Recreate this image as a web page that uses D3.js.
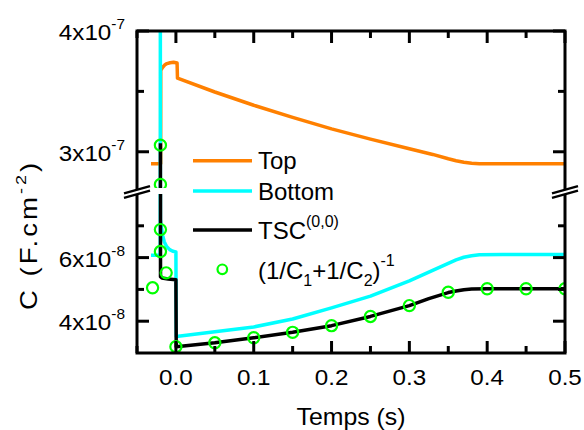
<!DOCTYPE html>
<html><head><meta charset="utf-8">
<script src="https://cdn.jsdelivr.net/npm/d3@7"></script>
<style>body{margin:0;background:#fff}svg{display:block}text{font-family:Arial,"Liberation Sans",sans-serif;fill:#000}</style>
</head><body><svg id="c" width="584" height="430"></svg>
<script>
// ---------- data ----------
const xTicks = [0, 0.1, 0.2, 0.3, 0.4, 0.5];
const xTickLabels = ["0.0", "0.1", "0.2", "0.3", "0.4", "0.5"];
const xMinorTicks = [-0.05, 0.05, 0.15, 0.25, 0.35, 0.45];
const yUpperMajor = [3e-7, 4e-7];
const yUpperLabels = [["3x10", "-7"], ["4x10", "-7"]];
const yUpperMinor = [3.5e-7];
const yLowerMajor = [4e-8, 6e-8];
const yLowerLabels = [["4x10", "-8"], ["6x10", "-8"]];
const yLowerMinor = [5e-8, 7e-8];

// Top (orange)
const topT = [-0.032, -0.0196, -0.0195, -0.017, -0.0145, -0.0115, -0.0075, -0.003, 0.0015, 0.002, 0.05, 0.1, 0.15, 0.2, 0.25, 0.3, 0.33, 0.35, 0.36, 0.37, 0.38, 0.39, 0.4, 0.45, 0.5];
const topC = [2.9e-7, 2.9e-7, 3.675e-7, 3.70e-7, 3.718e-7, 3.73e-7, 3.737e-7, 3.741e-7, 3.735e-7, 3.61e-7, 3.495e-7, 3.385e-7, 3.285e-7, 3.19e-7, 3.105e-7, 3.025e-7, 2.978e-7, 2.942e-7, 2.926e-7, 2.913e-7, 2.905e-7, 2.901e-7, 2.9e-7, 2.9e-7, 2.9e-7];
// Bottom (cyan)
const botT = [-0.032, -0.0201, -0.02, -0.0199, -0.019, -0.017, -0.015, -0.012, -0.008, -0.004, 0.0, 0.0004, 0.05, 0.1, 0.15, 0.2, 0.25, 0.3, 0.33, 0.35, 0.36, 0.37, 0.38, 0.39, 0.42, 0.45, 0.5];
const botC = [6.07e-8, 6.07e-8, 4.5e-7, 7.2e-8, 7.0e-8, 6.7e-8, 6.5e-8, 6.35e-8, 6.25e-8, 6.2e-8, 6.18e-8, 3.52e-8, 3.67e-8, 3.82e-8, 4.07e-8, 4.42e-8, 4.79e-8, 5.27e-8, 5.6e-8, 5.82e-8, 5.93e-8, 6.01e-8, 6.06e-8, 6.09e-8, 6.1e-8, 6.1e-8, 6.1e-8];
// TSC(0,0) (black)
const tscT = [-0.0199, -0.0198, -0.018, -0.01, 0.0, 0.0004, 0.05, 0.1, 0.15, 0.2, 0.25, 0.3, 0.325, 0.35, 0.36, 0.37, 0.38, 0.4, 0.45, 0.5];
const tscC = [3.07e-7, 5.4e-8, 5.36e-8, 5.33e-8, 5.3e-8, 3.2e-8, 3.32e-8, 3.48e-8, 3.65e-8, 3.86e-8, 4.15e-8, 4.49e-8, 4.71e-8, 4.9e-8, 4.95e-8, 4.99e-8, 5.01e-8, 5.02e-8, 5.02e-8, 5.02e-8];
// (1/C1+1/C2)^-1 (green circles)
const invT = [-0.03, -0.0199, -0.0199, -0.0199, -0.0199, -0.0125, 0.0, 0.05, 0.1, 0.15, 0.2, 0.25, 0.3, 0.35, 0.4, 0.45, 0.5];
const invC = [5.05e-8, 3.055e-7, 2.73e-7, 6.88e-8, 6.19e-8, 5.52e-8, 3.2e-8, 3.32e-8, 3.48e-8, 3.65e-8, 3.86e-8, 4.15e-8, 4.49e-8, 4.91e-8, 5.02e-8, 5.02e-8, 5.02e-8];

const seriesNames = ["Top", "Bottom", "TSC", "(1/C"];
const colors = {top: "#FF8000", bottom: "#00FFFF", tsc: "#000000", inv: "#00FF00"};

// ---------- layout ----------
const L = 137, R = 565, T = 31, B = 353;
const upBottom = 188, loTop = 194;
const svg = d3.select("#c");
const x = d3.scaleLinear().domain([-0.05, 0.5]).range([L, R]);
const yUp = d3.scaleLinear().domain([2.7e-7, 4e-7]).range([upBottom, T]);
const yLo = d3.scaleLinear().domain([3e-8, 8e-8]).range([B, loTop]);

const defs = svg.append("defs");
defs.append("clipPath").attr("id", "clipUp").append("rect").attr("x", L).attr("y", T).attr("width", R - L).attr("height", upBottom - T);
defs.append("clipPath").attr("id", "clipLo").append("rect").attr("x", L).attr("y", loTop).attr("width", R - L).attr("height", B - loTop);

const zip = (a, b) => a.map((v, i) => [v, b[i]]);
const dTop = zip(topT, topC), dBot = zip(botT, botC), dTsc = zip(tscT, tscC), dInv = zip(invT, invC);

function panel(y, clip) {
  const g = svg.append("g").attr("clip-path", `url(#${clip})`);
  const line = d3.line().x(d => x(d[0])).y(d => y(d[1]));
  g.append("path").datum(dTop).attr("d", line).attr("fill", "none").attr("stroke", colors.top).attr("stroke-width", 3.5).attr("stroke-linejoin", "round");
  g.append("path").datum(dBot).attr("d", line).attr("fill", "none").attr("stroke", colors.bottom).attr("stroke-width", 3.5).attr("stroke-linejoin", "round");
  g.append("path").datum(dTsc).attr("d", line).attr("fill", "none").attr("stroke", colors.tsc).attr("stroke-width", 3.5).attr("stroke-linejoin", "round");
  g.selectAll("circle").data(dInv).join("circle")
    .attr("cx", d => x(d[0])).attr("cy", d => y(d[1])).attr("r", 5.6)
    .attr("fill", "none").attr("stroke", colors.inv).attr("stroke-width", 2.2);
}
panel(yUp, "clipUp");
panel(yLo, "clipLo");

// ---------- frame & ticks ----------
const ax = svg.append("g").attr("stroke", "#000").attr("stroke-width", 3).attr("fill", "none");
ax.append("path").attr("d", `M${L},${T}H${R}V${B}H${L}Z`).attr("stroke-linejoin", "miter");
const major = 12, minor = 7;
xTicks.forEach(v => {
  ax.append("line").attr("x1", x(v)).attr("x2", x(v)).attr("y1", B).attr("y2", B - major);
  ax.append("line").attr("x1", x(v)).attr("x2", x(v)).attr("y1", T).attr("y2", T + major);
});
xMinorTicks.forEach(v => {
  ax.append("line").attr("x1", x(v)).attr("x2", x(v)).attr("y1", B).attr("y2", B - minor);
  ax.append("line").attr("x1", x(v)).attr("x2", x(v)).attr("y1", T).attr("y2", T + minor);
});
function yTick(yy, len) {
  ax.append("line").attr("x1", L).attr("x2", L + len).attr("y1", yy).attr("y2", yy);
  ax.append("line").attr("x1", R).attr("x2", R - len).attr("y1", yy).attr("y2", yy);
}
yUpperMajor.forEach(v => yTick(yUp(v), major));
yUpperMinor.forEach(v => yTick(yUp(v), minor));
yLowerMajor.forEach(v => yTick(yLo(v), major));
yLowerMinor.forEach(v => yTick(yLo(v), minor));

// break marks
function brk(cx, cy) {
  const hw = 13, hs = 3.6, off = 2.3;
  svg.append("path").attr("d", `M${cx - hw},${cy + hs - off}L${cx + hw},${cy - hs - off}L${cx + hw},${cy - hs + off}L${cx - hw},${cy + hs + off}Z`).attr("fill", "#fff");
  [-off, off].forEach(o => svg.append("line").attr("x1", cx - hw).attr("y1", cy + hs + o).attr("x2", cx + hw).attr("y2", cy - hs + o).attr("stroke", "#000").attr("stroke-width", 2.4));
}
brk(L, (upBottom + loTop) / 2 + 1);
brk(R, (upBottom + loTop) / 2 + 1);

// ---------- labels ----------
const SX = 1.1;
function txt(px, py, size, anchor, sx) {
  return svg.append("text").attr("transform", `translate(${px},${py}) scale(${sx},1)`)
    .attr("text-anchor", anchor).attr("font-size", size);
}
xTicks.forEach((v, i) => txt(x(v), 385, 22, "middle", SX).text(xTickLabels[i]));
function yLabel(yy, lab) {
  const t = txt(125, yy + 9, 22, "end", SX);
  t.append("tspan").text(lab[0]);
  t.append("tspan").attr("font-size", 14).attr("dy", -11).text(lab[1]);
}
yUpperMajor.forEach((v, i) => yLabel(yUp(v), yUpperLabels[i]));
yLowerMajor.forEach((v, i) => yLabel(yLo(v), yLowerLabels[i]));

txt((L + R) / 2, 425, 23, "middle", 1.08).text("Temps (s)");
const yt = svg.append("text").attr("transform", "translate(37,235) rotate(-90) scale(1.2,1)")
  .attr("text-anchor", "middle").attr("font-size", 23).attr("letter-spacing", 2.5);
yt.append("tspan").text("C (F.cm");
yt.append("tspan").attr("font-size", 15).attr("dy", -11).text("-2");
yt.append("tspan").attr("dy", 11).text(")");

// ---------- legend ----------
const lg = svg.append("g");
const lx1 = 193, lx2 = 252, tx = 258;
[[160.7, colors.top], [191, colors.bottom], [230, colors.tsc]].forEach(([yy, c]) => {
  lg.append("line").attr("x1", lx1).attr("x2", lx2).attr("y1", yy).attr("y2", yy).attr("stroke", c).attr("stroke-width", 3.5);
});
lg.append("circle").attr("cx", 222.3).attr("cy", 269.3).attr("r", 4.8).attr("fill", "none").attr("stroke", colors.inv).attr("stroke-width", 2.2);
lg.append("text").attr("x", tx).attr("y", 168.5).attr("font-size", 24).text(seriesNames[0]);
lg.append("text").attr("x", tx).attr("y", 200).attr("font-size", 24).text(seriesNames[1]);
const t3 = lg.append("text").attr("x", tx).attr("y", 239).attr("font-size", 24);
t3.append("tspan").text(seriesNames[2]);
t3.append("tspan").attr("font-size", 16).attr("dy", -12).text("(0,0)");
const t4 = lg.append("text").attr("x", tx).attr("y", 278.5).attr("font-size", 24);
t4.append("tspan").text(seriesNames[3]);
t4.append("tspan").attr("font-size", 16).attr("dy", 7).text("1");
t4.append("tspan").attr("dy", -7).text("+1/C");
t4.append("tspan").attr("font-size", 16).attr("dy", 7).text("2");
t4.append("tspan").attr("dy", -7).text(")");
t4.append("tspan").attr("font-size", 16).attr("dy", -13).text("-1");
</script></body></html>
